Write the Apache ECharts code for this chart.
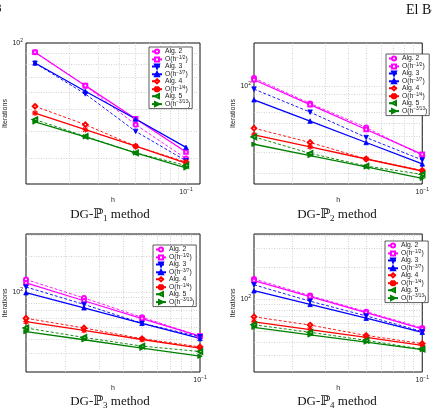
<!DOCTYPE html>
<html>
<head>
<meta charset="utf-8">
<script src="https://cdn.jsdelivr.net/npm/echarts@6/dist/echarts.min.js"></script>
<style>
  html, body { margin: 0; padding: 0; background: #fff; }
  #chart { width: 432px; height: 410px; }
</style>
</head>
<body>
<div id="chart"></div>
<script>
// mesh size h (same for every panel)
const hValues = [0.0125, 0.025, 0.05, 0.1]

const seriesNames = ['Alg. 2', 'O(h^-1/2)', 'Alg. 3', 'O(h^-3/7)', 'Alg. 4', 'O(h^-1/4)', 'Alg. 5', 'O(h^-3/13)']

// iterations, one row per series (same order as seriesNames)
const iterP1 = [
  [90.8, 64.1, 42.7, 30.0],
  [90.8, 64.1, 45.4, 32.1],
  [81.0, 58.8, 39.8, 29.3],
  [81.2, 60.5, 45.3, 33.7],
  [51.7, 42.7, 34.1, 28.9],
  [48.2, 40.5, 34.1, 28.6],
  [45.0, 37.8, 31.8, 27.9],
  [43.9, 37.6, 31.8, 27.2]
]
const iterP2 = [
  [112.3, 78.9, 56.4, 38.2],
  [109.7, 77.6, 54.9, 38.8],
  [96.3, 69.9, 49.1, 35.9],
  [83.0, 61.7, 45.8, 34.0],
  [55.9, 45.8, 36.4, 31.0],
  [50.9, 43.1, 36.4, 30.8],
  [49.5, 39.4, 33.0, 29.4],
  [44.7, 38.2, 32.6, 27.8]
]
const iterP3 = [
  [127.5, 88.9, 61.1, 42.3],
  [119.4, 84.3, 59.6, 42.3],
  [110.3, 78.5, 54.3, 41.8],
  [98.7, 73.5, 54.3, 40.4],
  [59.9, 49.6, 40.2, 34.3],
  [56.1, 47.3, 39.6, 33.4],
  [49.6, 41.2, 34.8, 31.3],
  [46.1, 39.4, 33.4, 28.6]
]
const iterP4 = [
  [155.8, 108.8, 77.0, 54.2],
  [150.4, 106.5, 75.5, 53.1],
  [137.3, 96.5, 70.3, 50.2],
  [120.9, 90.0, 66.9, 49.4],
  [68.9, 57.7, 46.1, 38.7],
  [61.9, 52.3, 44.2, 37.3],
  [58.1, 49.4, 41.5, 34.3],
  [55.0, 46.7, 40.0, 34.0]
]

const captions = ['1', '2', '3', '4']

// look of each series (MATLAB-like)
const asterisk = 'path://M4.5,0h1v10h-1z M0,4.5h10v1h-10z M1.3,0.6l8.1,8.1-0.7,0.7-8.1-8.1z M8.7,0.6l0.7,0.7-8.1,8.1-0.7-0.7z'
const looks = [
  { color: '#ff00ff', dash: true,  symbol: 'emptyCircle', size: 4, rot: 0 },
  { color: '#ff00ff', dash: false, symbol: 'emptyRect', size: 3.6, rot: 0 },
  { color: '#0000ff', dash: true,  symbol: 'triangle', size: 4.5, rot: 180 },
  { color: '#0000ff', dash: false, symbol: 'triangle', size: 4.5, rot: 0 },
  { color: '#ff0000', dash: true,  symbol: 'emptyDiamond', size: 4.5, rot: 0 },
  { color: '#ff0000', dash: false, symbol: asterisk, size: 5, rot: 0 },
  { color: '#008000', dash: true,  symbol: 'emptyTriangle', size: 4.5, rot: 90 },
  { color: '#008000', dash: false, symbol: 'triangle', size: 4.5, rot: -90 }
]

const panels = [
  { iter: iterP1, xLim: [0.01104, 0.1213], yLim: [23, 100],   grid: { left: 26,  top: 43,  width: 174, height: 141 }, legend: { left: 149, top: 47 } },
  { iter: iterP2, xLim: [0.0125, 0.1],     yLim: [25.7, 183], grid: { left: 254, top: 43,  width: 174, height: 141 }, legend: { left: 386, top: 54 } },
  { iter: iterP3, xLim: [0.0125, 0.1],     yLim: [21, 310],   grid: { left: 26,  top: 234, width: 174, height: 138 }, legend: { left: 153, top: 245 } },
  { iter: iterP4, xLim: [0.0125, 0.1],     yLim: [21, 410],   grid: { left: 254, top: 234, width: 175, height: 138 }, legend: { left: 385, top: 241 } }
]

// log grid positions 1..9 x 10^e
const gridVals = []
for (let e = -2; e <= 3; e++) for (let m = 1; m <= 9; m++) gridVals.push(+(m * Math.pow(10, e)).toPrecision(3))
const inside = (v, lim) => v > lim[0] * 1.002 && v < lim[1] * 0.998

const FONT = "'Liberation Sans', Arial, sans-serif"
const SERIF = "'Liberation Serif', 'DejaVu Serif', serif"

const isDecade = v => Math.abs(Math.log10(v) - Math.round(Math.log10(v))) < 1e-6
const tickFmt = v => isDecade(v) ? `{b|10}{s|${Math.round(Math.log10(v)).toString().replace('-', '−')}}` : ''
const tickRich = {
  b: { fontSize: 7, fontFamily: FONT, color: '#222', lineHeight: 10, verticalAlign: 'middle' },
  s: { fontSize: 5, fontFamily: FONT, color: '#222', lineHeight: 10, verticalAlign: 'top' }
}

const legendFmt = name => {
  const m = /^O\(h\^(.*)\)$/.exec(name)
  return m ? `{t|O(h}{s|${m[1].replace('-', '−')}}{t|)}` : `{t|${name}}`
}

const option = {
  animation: false,
  backgroundColor: '#fff',
  grid: panels.map(p => ({ ...p.grid, show: true, borderColor: '#111', borderWidth: 1, backgroundColor: '#fff' })),
  xAxis: panels.map((p, i) => ({
    type: 'log', logBase: 10, gridIndex: i, min: p.xLim[0], max: p.xLim[1],
    name: 'h', nameLocation: 'middle', nameGap: 8,
    nameTextStyle: { fontSize: 7, fontFamily: FONT, color: '#222', verticalAlign: 'top' },
    axisLine: { show: false }, axisTick: { show: false }, splitLine: { show: false },
    axisLabel: { formatter: tickFmt, rich: tickRich, margin: 3, showMinLabel: true, showMaxLabel: true }
  })),
  yAxis: panels.map((p, i) => ({
    type: 'log', logBase: 10, gridIndex: i, min: p.yLim[0], max: p.yLim[1],
    name: 'Iterations', nameLocation: 'middle', nameGap: 10,
    nameTextStyle: { fontSize: 7, fontFamily: FONT, color: '#222' },
    axisLine: { show: false }, axisTick: { show: false }, splitLine: { show: false },
    axisLabel: { formatter: tickFmt, rich: tickRich, margin: 3, showMinLabel: true, showMaxLabel: true }
  })),
  legend: panels.map(p => ({
    data: seriesNames, orient: 'vertical', left: p.legend.left, top: p.legend.top,
    itemGap: 0, itemWidth: 10, itemHeight: 5, padding: [1, 2, 1, 2],
    borderColor: '#333', borderWidth: 0.8, backgroundColor: '#fff', borderRadius: 0,
    selectedMode: false, formatter: legendFmt,
    textStyle: {
      padding: [0, 0, 0, -2],
      rich: {
        t: { fontSize: 6.8, fontFamily: FONT, color: '#222', lineHeight: 8.8, verticalAlign: 'middle' },
        s: { fontSize: 4.6, fontFamily: FONT, color: '#222', lineHeight: 8.8, verticalAlign: 'top' }
      }
    }
  })),
  series: panels.flatMap((p, pi) => seriesNames.map((name, si) => {
    const lk = looks[si]
    const s = {
      type: 'line', name, xAxisIndex: pi, yAxisIndex: pi,
      data: hValues.map((h, k) => [h, p.iter[si][k]]),
      symbol: lk.symbol, symbolSize: lk.size, symbolRotate: lk.rot, showSymbol: true,
      lineStyle: { color: lk.color, width: lk.dash ? 0.9 : 1.3, type: lk.dash ? [3, 2] : 'solid' },
      itemStyle: { color: lk.color, borderColor: lk.color, borderWidth: 0.8 },
      clip: false, silent: true, z: 3
    }
    if (si === 0) {
      s.markLine = {
        silent: true, symbol: 'none', z: 1, animation: false,
        label: { show: false },
        lineStyle: { color: '#c8c8c8', type: [1, 1.5], width: 0.8 },
        emphasis: { disabled: true },
        data: [
          ...gridVals.filter(v => inside(v, p.xLim)).map(v => ({ xAxis: v })),
          ...gridVals.filter(v => inside(v, p.yLim)).map(v => ({ yAxis: v }))
        ]
      }
    }
    return s
  })),
  graphic: [
    ...captions.map((c, i) => ({
      type: 'text', x: i % 2 ? 337 : 110, y: i < 2 ? 215 : 402,
      style: {
        text: `{t|DG-ℙ}{sub|${c}}{t| method}`, align: 'center', verticalAlign: 'middle',
        rich: {
          t: { fontSize: 13, fontFamily: SERIF, fill: '#111', lineHeight: 17, verticalAlign: 'middle' },
          sub: { fontSize: 9, fontFamily: SERIF, fill: '#111', lineHeight: 17, verticalAlign: 'bottom' }
        }
      }
    })),
    { type: 'text', x: 406, y: 10, style: { text: 'El Bo', fontSize: 14, fontFamily: SERIF, fill: '#111', verticalAlign: 'middle' } },
    { type: 'text', x: -5, y: 9, style: { text: '8', fontSize: 13, fontFamily: SERIF, fill: '#111', verticalAlign: 'middle' } }
  ]
}

const chart = echarts.init(document.getElementById('chart'))
chart.setOption(option)
</script>
</body>
</html>
